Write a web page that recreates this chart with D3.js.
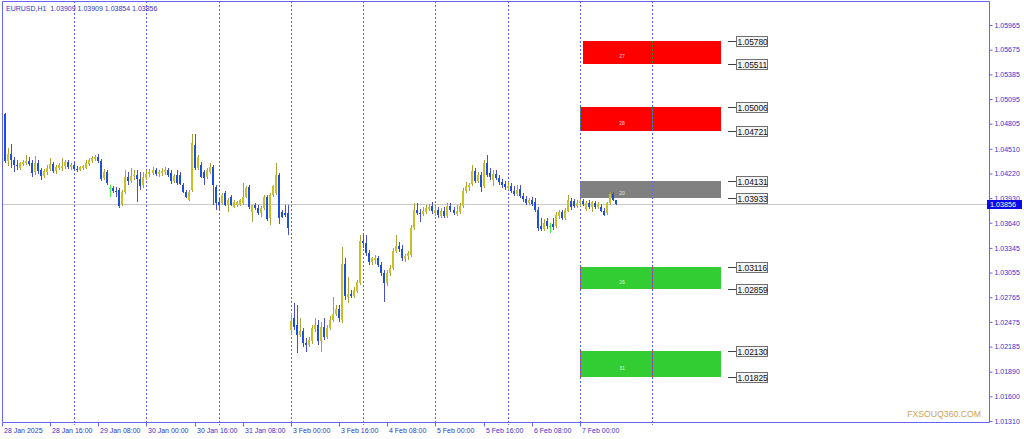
<!DOCTYPE html>
<html><head><meta charset="utf-8">
<script src="https://cdn.jsdelivr.net/npm/d3@7"></script>
<style>
body{margin:0;background:#fff;}
svg{display:block;}
text{font-family:"Liberation Sans",Arial,sans-serif;}
</style>
</head><body>
<svg id="c" width="1024" height="439"></svg>
<script>
// ---------- DATA ----------
const symbolTitle = "EURUSD,H1  1.03909 1.03909 1.03854 1.03856";
const opens = [
1.0487,1.0492,1.0437,1.0445,1.0438,1.0432,1.0428,1.0433,1.0434,1.0437,
1.0434,1.0424,1.0434,1.0426,1.0419,1.0424,1.0427,1.0433,1.0425,1.0428,
1.0428,1.0431,1.0435,1.0430,1.0432,1.0427,1.0426,1.0428,1.0428,1.0433,
1.0437,1.0439,1.0441,1.0437,1.0417,1.0424,1.0405,1.0405,1.0401,1.0403,
1.0386,1.0400,1.0418,1.0413,1.0419,1.0420,1.0416,1.0408,1.0417,1.0421,
1.0423,1.0426,1.0421,1.0423,1.0424,1.0426,1.0423,1.0413,1.0420,1.0420,
1.0408,1.0400,1.0391,1.0403,1.0455,1.0428,1.0432,1.0424,1.0418,1.0424,
1.0430,1.0406,1.0388,1.0387,1.0399,1.0385,1.0394,1.0383,1.0385,1.0385,
1.0387,1.0394,1.0406,1.0377,1.0385,1.0381,1.0376,1.0381,1.0394,1.0370,
1.0397,1.0399,1.0420,1.0377,1.0376,1.0376,1.0238,1.0252,1.0244,1.0232,
1.0237,1.0223,1.0220,1.0225,1.0239,1.0244,1.0225,1.0242,1.0230,1.0240,
1.0250,1.0257,1.0263,1.0250,1.0316,1.0277,1.0280,1.0278,1.0284,1.0293,
1.0343,1.0340,1.0329,1.0318,1.0320,1.0323,1.0314,1.0305,1.0293,1.0305,
1.0311,1.0331,1.0337,1.0333,1.0322,1.0325,1.0326,1.0358,1.0379,1.0376,
1.0374,1.0377,1.0380,1.0384,1.0376,1.0379,1.0372,1.0378,1.0372,1.0384,
1.0379,1.0374,1.0377,1.0384,1.0401,1.0406,1.0410,1.0425,1.0413,1.0420,
1.0407,1.0434,1.0423,1.0414,1.0421,1.0417,1.0412,1.0410,1.0405,1.0407,
1.0401,1.0398,1.0404,1.0395,1.0392,1.0387,1.0391,1.0388,1.0379,1.0360,
1.0357,1.0366,1.0360,1.0363,1.0360,1.0372,1.0377,1.0370,1.0378,1.0390,
1.0390,1.0384,1.0387,1.0390,1.0380,1.0387,1.0383,1.0387,1.0383,1.0383,
1.0378,1.0376,1.0387,1.0398,1.03909];
const highs = [
1.0494,1.0493,1.0452,1.0457,1.0441,1.0438,1.0435,1.0438,1.0444,1.0441,
1.0438,1.0443,1.0438,1.0428,1.0427,1.0432,1.0440,1.0435,1.0432,1.0434,
1.0440,1.0438,1.0438,1.0434,1.0435,1.0431,1.0431,1.0432,1.0438,1.0440,
1.0443,1.0444,1.0445,1.0439,1.0427,1.0426,1.0408,1.0407,1.0406,1.0405,
1.0403,1.0426,1.0424,1.0428,1.0426,1.0426,1.0424,1.0424,1.0426,1.0427,
1.0430,1.0428,1.0426,1.0428,1.0430,1.0428,1.0426,1.0421,1.0426,1.0424,
1.0411,1.0403,1.0403,1.0468,1.0468,1.0444,1.0435,1.0426,1.0428,1.0434,
1.0432,1.0408,1.0393,1.0399,1.0401,1.0393,1.0397,1.0391,1.0390,1.0392,
1.0411,1.0407,1.0408,1.0385,1.0387,1.0385,1.0384,1.0397,1.0397,1.0399,
1.0408,1.0434,1.0423,1.0379,1.0385,1.0385,1.0258,1.0270,1.0267,1.0252,
1.0240,1.0229,1.0230,1.0244,1.0252,1.0250,1.0247,1.0252,1.0244,1.0254,
1.0277,1.0267,1.0267,1.0336,1.0323,1.0300,1.0285,1.0289,1.0297,1.0350,
1.0350,1.0350,1.0332,1.0324,1.0326,1.0325,1.0318,1.0309,1.0309,1.0314,
1.0334,1.0350,1.0341,1.0338,1.0327,1.0331,1.0361,1.0387,1.0387,1.0380,
1.0383,1.0385,1.0386,1.0388,1.0384,1.0383,1.0381,1.0383,1.0387,1.0387,
1.0383,1.0385,1.0387,1.0405,1.0412,1.0411,1.0432,1.0428,1.0424,1.0424,
1.0438,1.0444,1.0428,1.0426,1.0426,1.0420,1.0416,1.0413,1.0412,1.0411,
1.0407,1.0408,1.0408,1.0399,1.0395,1.0393,1.0394,1.0393,1.0383,1.0370,
1.0369,1.0370,1.0364,1.0370,1.0377,1.0379,1.0379,1.0381,1.0397,1.0393,
1.0392,1.0391,1.0392,1.0392,1.0390,1.0391,1.0390,1.0390,1.0388,1.0386,
1.0381,1.0388,1.0400,1.0400,1.03909];
const lows = [
1.0486,1.0434,1.0431,1.0428,1.0424,1.0426,1.0426,1.0431,1.0432,1.0431,
1.0418,1.0420,1.0421,1.0414,1.0417,1.0420,1.0425,1.0423,1.0421,1.0426,
1.0425,1.0427,1.0427,1.0426,1.0425,1.0424,1.0425,1.0426,1.0427,1.0431,
1.0434,1.0437,1.0434,1.0413,1.0414,1.0408,1.0394,1.0399,1.0394,1.0381,
1.0384,1.0398,1.0408,1.0411,1.0414,1.0388,1.0403,1.0405,1.0414,1.0418,
1.0420,1.0419,1.0418,1.0419,1.0420,1.0418,1.0410,1.0411,1.0408,1.0408,
1.0399,1.0393,1.0390,1.0400,1.0426,1.0426,1.0417,1.0408,1.0416,1.0421,
1.0385,1.0379,1.0379,1.0385,1.0384,1.0377,1.0384,1.0381,1.0383,1.0384,
1.0385,1.0393,1.0380,1.0365,1.0379,1.0373,1.0371,1.0379,1.0366,1.0361,
1.0394,1.0397,1.0363,1.0370,1.0371,1.0350,1.0232,1.0238,1.0211,1.0230,
1.0218,1.0212,1.0218,1.0222,1.0236,1.0220,1.0212,1.0226,1.0227,1.0238,
1.0247,1.0254,1.0247,1.0246,1.0273,1.0270,1.0276,1.0276,1.0282,1.0291,
1.0334,1.0325,1.0314,1.0314,1.0316,1.0312,1.0302,1.0271,1.0290,1.0302,
1.0309,1.0329,1.0330,1.0319,1.0318,1.0320,1.0324,1.0356,1.0373,1.0365,
1.0372,1.0374,1.0378,1.0374,1.0372,1.0370,1.0370,1.0370,1.0370,1.0377,
1.0373,1.0372,1.0374,1.0381,1.0399,1.0401,1.0407,1.0411,1.0411,1.0400,
1.0405,1.0418,1.0414,1.0407,1.0414,1.0408,1.0405,1.0403,1.0403,1.0399,
1.0395,1.0395,1.0393,1.0388,1.0385,1.0385,1.0384,1.0377,1.0354,1.0354,
1.0354,1.0357,1.0352,1.0356,1.0358,1.0369,1.0367,1.0367,1.0377,1.0379,
1.0381,1.0381,1.0384,1.0384,1.0378,1.0380,1.0377,1.0380,1.0380,1.0377,
1.0372,1.0373,1.0385,1.0390,1.03854];
const closes = [
1.0492,1.0437,1.0445,1.0438,1.0432,1.0431,1.0434,1.0435,1.0437,1.0433,
1.0423,1.0434,1.0425,1.0419,1.0425,1.0428,1.0433,1.0425,1.0430,1.0432,
1.0431,1.0435,1.0430,1.0432,1.0427,1.0426,1.0430,1.0431,1.0434,1.0438,
1.0440,1.0441,1.0437,1.0416,1.0424,1.0411,1.0405,1.0401,1.0400,1.0384,
1.0400,1.0418,1.0413,1.0419,1.0420,1.0416,1.0407,1.0418,1.0421,1.0424,
1.0426,1.0421,1.0424,1.0425,1.0426,1.0420,1.0413,1.0419,1.0411,1.0410,
1.0400,1.0394,1.0400,1.0458,1.0428,1.0441,1.0418,1.0417,1.0426,1.0430,
1.0408,1.0387,1.0385,1.0397,1.0385,1.0391,1.0385,1.0388,1.0388,1.0391,
1.0394,1.0405,1.0383,1.0385,1.0381,1.0376,1.0381,1.0394,1.0369,1.0397,
1.0407,1.0420,1.0370,1.0371,1.0373,1.0358,1.0249,1.0242,1.0232,1.0237,
1.0223,1.0220,1.0226,1.0240,1.0244,1.0225,1.0242,1.0230,1.0240,1.0250,
1.0257,1.0263,1.0252,1.0316,1.0278,1.0280,1.0278,1.0285,1.0294,1.0343,
1.0340,1.0329,1.0318,1.0323,1.0323,1.0314,1.0305,1.0293,1.0305,1.0311,
1.0331,1.0337,1.0333,1.0323,1.0325,1.0329,1.0358,1.0379,1.0376,1.0374,
1.0378,1.0381,1.0383,1.0378,1.0379,1.0373,1.0378,1.0372,1.0384,1.0379,
1.0376,1.0378,1.0384,1.0401,1.0407,1.0408,1.0425,1.0413,1.0420,1.0406,
1.0434,1.0420,1.0418,1.0421,1.0417,1.0412,1.0408,1.0406,1.0407,1.0401,
1.0398,1.0403,1.0395,1.0392,1.0387,1.0391,1.0386,1.0379,1.0358,1.0357,
1.0364,1.0360,1.0360,1.0359,1.0373,1.0377,1.0370,1.0379,1.0391,1.0383,
1.0384,1.0387,1.0390,1.0386,1.0387,1.0383,1.0388,1.0383,1.0386,1.0378,
1.0373,1.0387,1.0398,1.0391,1.03856];

const timeLabels = ["28 Jan 2025","28 Jan 16:00","29 Jan 08:00","30 Jan 00:00","30 Jan 16:00","31 Jan 08:00","3 Feb 00:00","3 Feb 16:00","4 Feb 08:00","5 Feb 00:00","5 Feb 16:00","6 Feb 08:00","7 Feb 00:00"];
const timeLabelBars = [0,16,32,48,64,80,96,112,128,144,160,176,192];
const daySeparatorBars = [24,48,72,96,120,144,168,192,216];
const priceTicks = [1.05965,1.05675,1.05385,1.05095,1.04805,1.04510,1.04220,1.03930,1.03640,1.03345,1.03055,1.02765,1.02475,1.02185,1.01890,1.01600,1.01310];
const lastPrice = 1.03856;

const zoneTops    = [1.05780,1.05006,1.04131,1.03116,1.02130];
const zoneBottoms = [1.05511,1.04721,1.03933,1.02859,1.01825];
const zoneLabels  = ["27","28","20","26","31"];
const zoneColors  = ["#ff0000","#ff0000","#808080","#32cd32","#32cd32"];
const zoneSepColors = ["#2e8b2e","#2e8b2e","#6a6ad8","#c04848","#c04848"];
const zoneStartBars = [193,192,192,192,192];
const zoneEndBar = 239;
const watermark = "FXSOUQ360.COM";

// ---------- LAYOUT ----------
const L = 2, R = 989, T = 1, B = 422;
const svg = d3.select("#c");
const x = d3.scaleLinear().domain([0, 1]).range([2, 5.01]);
const y = d3.scaleLinear().domain([1.01310, 1.05965]).range([421, 25]);
const axisCol = "#6464f4", textCol = "#3434cc";

svg.append("rect").attr("width",1024).attr("height",439).attr("fill","#fff");
svg.append("clipPath").attr("id","clip").append("rect")
  .attr("x",L).attr("y",T).attr("width",R-L).attr("height",B-T);
const plot = svg.append("g").attr("clip-path","url(#clip)");

// zones
const zi = d3.range(zoneTops.length);
plot.selectAll("rect.zone").data(zi).join("rect")
  .attr("x", i => Math.round(x(zoneStartBars[i])))
  .attr("width", i => Math.round(x(zoneEndBar)) - Math.round(x(zoneStartBars[i])))
  .attr("y", i => Math.round(y(zoneTops[i])))
  .attr("height", i => Math.round(y(zoneBottoms[i])) - Math.round(y(zoneTops[i])))
  .attr("fill", i => zoneColors[i]);

// day separators
plot.selectAll("line.sep").data(daySeparatorBars).join("line")
  .attr("x1", d => Math.round(x(d)) + 0.5).attr("x2", d => Math.round(x(d)) + 0.5)
  .attr("y1", T).attr("y2", B)
  .attr("stroke", "#5a5af8").attr("stroke-width",1).attr("stroke-dasharray","2,2");
zi.forEach(i => {
  daySeparatorBars.forEach(d => {
    if (d >= zoneStartBars[i] && d < zoneEndBar) {
      plot.append("line")
        .attr("x1", Math.round(x(d)) + 0.5).attr("x2", Math.round(x(d)) + 0.5)
        .attr("y1", Math.round(y(zoneTops[i]))).attr("y2", Math.round(y(zoneBottoms[i])))
        .attr("stroke", zoneSepColors[i]).attr("stroke-dasharray","2,2");
    }
  });
});

// zone labels
plot.selectAll("text.zl").data(zi).join("text")
  .attr("x", i => x(192) + 42)
  .attr("y", i => (y(zoneTops[i]) + y(zoneBottoms[i])) / 2 + 6)
  .attr("text-anchor","middle").attr("font-size","5px")
  .attr("fill","rgba(255,255,255,0.85)")
  .text(i => zoneLabels[i]);

// current price line
plot.append("line").attr("x1",L).attr("x2",R)
  .attr("y1", Math.round(y(lastPrice)) + 0.5).attr("y2", Math.round(y(lastPrice)) + 0.5)
  .attr("stroke","#c8c8c8").attr("stroke-width",1);

// candles
const bars = d3.range(closes.length).map(i => ({i, o:opens[i], h:highs[i], l:lows[i], c:closes[i]}));
const g = plot.append("g").attr("shape-rendering","crispEdges");
bars.forEach(b => {
  const xc = Math.round(x(b.i));
  const doji = b.o === b.c;
  const up = b.c > b.o;
  const wickCol = doji ? "#3cf03c" : (up ? "#a6a23e" : "#4c4cd0");
  const bodyCol = doji ? "#3cf03c" : (up ? "#c8c024" : "#1c50d8");
  const yh = Math.round(y(b.h)), yl = Math.round(y(b.l));
  g.append("rect").attr("x", xc).attr("y", yh).attr("width",1).attr("height", Math.max(1, yl - yh)).attr("fill", wickCol);
  const yt = Math.round(y(Math.max(b.o,b.c))), yb = Math.round(y(Math.min(b.o,b.c)));
  g.append("rect").attr("x", xc - 1).attr("y", yt).attr("width", 2).attr("height", Math.max(1, yb - yt)).attr("fill", bodyCol);
});

// price labels on the right of zones
const lvls = [];
zi.forEach(i => { lvls.push(zoneTops[i]); lvls.push(zoneBottoms[i]); });
const lx = Math.round(x(zoneEndBar));
const lg = plot.append("g");
lvls.forEach(p => {
  const yy = Math.round(y(p)) + 0.5;
  lg.append("line").attr("x1", lx + 7).attr("x2", lx + 15).attr("y1", yy).attr("y2", yy)
    .attr("stroke","#404040");
  lg.append("rect").attr("x", lx + 15.5).attr("y", yy - 5).attr("width", 31).attr("height", 10)
    .attr("fill","#f4f4f4").attr("stroke","#707070").attr("stroke-width",1);
  lg.append("text").attr("x", lx + 16.5).attr("y", yy + 3.3).attr("font-size","8.4px")
    .attr("fill","#111").text(d3.format(".5f")(p));
});

// frame
svg.append("path")
  .attr("d", `M${L+0.5},${B+0.5} V${T+0.5} H${R+0.5} V${B+0.5} H${L+0.5}`)
  .attr("fill","none").attr("stroke",axisCol).attr("stroke-width",1);

// right price axis
const yAxis = d3.axisRight(y).tickValues(priceTicks).tickFormat(d3.format(".5f")).tickSize(3).tickPadding(2);
const ya = svg.append("g").attr("transform",`translate(${R+0.5},0)`).call(yAxis);
ya.select(".domain").remove();
ya.selectAll("line").attr("stroke",axisCol);
ya.selectAll("text").attr("fill",textCol).attr("font-size","7px").attr("font-family","Liberation Sans, Arial, sans-serif");

// bottom time axis
const xAxis = d3.axisBottom(x).tickValues(timeLabelBars).tickFormat((d,i) => timeLabels[i]).tickSize(4);
const xa = svg.append("g").attr("transform",`translate(0,${B+0.5})`).call(xAxis);
xa.select(".domain").remove();
xa.selectAll(".tick").attr("transform", d => `translate(${Math.round(x(d))+0.5},0)`);
xa.selectAll("line").attr("stroke",axisCol);
xa.selectAll("text").attr("fill",textCol).attr("font-size","7px").attr("text-anchor","start")
  .attr("x",1.5).attr("y",10).attr("dy",0).attr("font-family","Liberation Sans, Arial, sans-serif");
svg.selectAll("line.septick").data(daySeparatorBars).join("line")
  .attr("x1", d => Math.round(x(d))+0.5).attr("x2", d => Math.round(x(d))+0.5)
  .attr("y1", B).attr("y2", B+3).attr("stroke",axisCol).attr("stroke-dasharray","1,1");

// current price box
const yp = Math.round(y(lastPrice));
svg.append("rect").attr("x", R - 2).attr("y", yp - 4).attr("width", 35).attr("height", 9).attr("fill","#0a0ae6");
svg.append("text").attr("x", R + 1).attr("y", yp + 3).attr("font-size","7.2px").attr("fill","#fff").text(d3.format(".5f")(lastPrice));

// title
svg.append("text").attr("x",6).attr("y",10.5).attr("font-size","7px").attr("fill",textCol).attr("xml:space","preserve").text(symbolTitle);

// watermark
svg.append("text").attr("x",981).attr("y",417).attr("text-anchor","end").attr("font-size","8.7px")
  .attr("fill","#c9a35a").text(watermark);
</script>
</body></html>
